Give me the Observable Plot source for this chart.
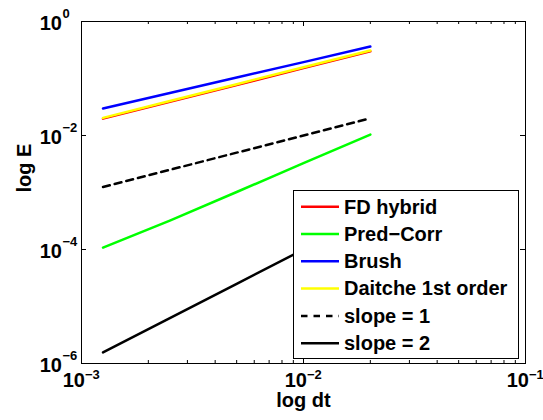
<!DOCTYPE html>
<html>
<head>
<meta charset="utf-8">
<script src="https://cdn.jsdelivr.net/npm/d3@7"></script>
<script src="https://cdn.jsdelivr.net/npm/@observablehq/plot@0.6"></script>
<style>
  html, body { margin: 0; padding: 0; background: #fff; }
  #chart svg { display: block; overflow: visible; }
</style>
</head>
<body>
<div id="chart"></div>
<script>
// ---- data ----
const dt = [0.00125, 0.0025, 0.005, 0.01, 0.02];
const fdHybrid = [0.0198, 0.039, 0.077, 0.152, 0.30];
const predCorr = [1.08e-4, 3.22e-4, 1.02e-3, 3.27e-3, 1.04e-2];
const brush = [0.0298, 0.0555, 0.104, 0.194, 0.364];
const daitche = [0.0204, 0.0402, 0.0795, 0.157, 0.31];
const slope1 = [0.00125, 0.0025, 0.005, 0.01, 0.02];
const slope2 = [1.5625e-6, 6.25e-6, 2.5e-5, 1e-4, 4e-4];

const seriesNames = ["FD hybrid", "Pred\u2212Corr", "Brush", "Daitche 1st order", "slope = 1", "slope = 2"];
const seriesValues = [fdHybrid, predCorr, brush, daitche, slope1, slope2];
const seriesColors = ["#ff0000", "#00ff00", "#0000ff", "#ffff00", "#000000", "#000000"];
const seriesDash = [null, null, null, null, "7,5", null];

const xMajor = [1e-3, 1e-2, 1e-1];
const xMajorExp = ["\u22123", "\u22122", "\u22121"];
const xMinor = [2,3,4,5,6,7,8,9].flatMap(m => [m * 1e-3, m * 1e-2]);
const yMajor = [1e-6, 1e-4, 1e-2, 1];
const yMajorExp = ["\u22126", "\u22124", "\u22122", "0"];

// ---- layout ----
const W = 543, H = 420;
const mL = 81, mT = 21, mR = 18, mB = 57;
const fw = W - mL - mR, fh = H - mT - mB;
const font = "'Liberation Sans', Arial, Helvetica, sans-serif";

const table = seriesNames.flatMap((name, i) =>
  dt.map((d, j) => ({series: name, dt: d, E: seriesValues[i][j], idx: i})));

const lineMarks = seriesNames.map((name, i) =>
  Plot.line(table.filter(r => r.idx === i), {
    x: "dt", y: "E",
    stroke: seriesColors[i],
    strokeWidth: 2.5,
    strokeDasharray: seriesDash[i] || undefined
  }));

const chart = Plot.plot({
  width: W, height: H,
  marginLeft: mL, marginTop: mT, marginRight: mR, marginBottom: mB,
  style: {background: "#fff", fontFamily: font, color: "#000"},
  x: {type: "log", domain: [1e-3, 1e-1], axis: null},
  y: {type: "log", domain: [1e-6, 1], axis: null},
  marks: [
    ...lineMarks,
    // ticks (inward, all four sides)
    Plot.tickX(xMajor, {x: d => d, insetTop: fh - 5, stroke: "#000"}),
    Plot.tickX(xMajor, {x: d => d, insetBottom: fh - 5, stroke: "#000"}),
    Plot.tickX(xMinor, {x: d => d, insetTop: fh - 3, stroke: "#000"}),
    Plot.tickX(xMinor, {x: d => d, insetBottom: fh - 3, stroke: "#000"}),
    Plot.tickY(yMajor, {y: d => d, insetRight: fw - 5, stroke: "#000"}),
    Plot.tickY(yMajor, {y: d => d, insetLeft: fw - 5, stroke: "#000"}),
    Plot.frame({stroke: "#000", strokeWidth: 1}),
    // x tick labels 10^n
    Plot.text(xMajor, {x: d => d, frameAnchor: "bottom", text: () => "10", textAnchor: "end",
      dx: 3.5, dy: 23.6, fontSize: 20, fontWeight: "bold", fill: "#000"}),
    Plot.text(xMajor, {x: d => d, frameAnchor: "bottom", text: (d, i) => xMajorExp[i], textAnchor: "start",
      dx: 3.5, dy: 15.3, fontSize: 13, fontWeight: "bold", fill: "#000"}),
    // y tick labels 10^n
    Plot.text(yMajor, {y: d => d, frameAnchor: "left", text: () => "10", textAnchor: "end",
      dx: -19.5, dy: 2.1, fontSize: 20, fontWeight: "bold", fill: "#000"}),
    Plot.text(yMajor, {y: d => d, frameAnchor: "left", text: (d, i) => yMajorExp[i], textAnchor: "start",
      dx: -19, dy: -7.2, fontSize: 13, fontWeight: "bold", fill: "#000"}),
    // axis labels
    Plot.text(["log dt"], {frameAnchor: "bottom", text: d => d, dy: 43.6,
      fontSize: 20, fontWeight: "bold", fill: "#000"}),
    Plot.text(["log E"], {frameAnchor: "left", text: d => d, rotate: -90, dx: -57.4,
      fontSize: 20, fontWeight: "bold", fill: "#000"})
  ]
});

// ---- legend inside the axes (lower right) ----
const svg = d3.select(chart);
const lg = svg.append("g").attr("class", "legend").attr("text-anchor", "start");
const bx = 293.5, by = 190.5, bw = 225, bh = 168;
lg.append("rect").attr("x", bx).attr("y", by).attr("width", bw).attr("height", bh)
  .attr("fill", "#fff").attr("stroke", "#000").attr("stroke-width", 1);
const rowY0 = 206.7, rowStep = 27.3;
seriesNames.forEach((name, i) => {
  const cy = rowY0 + i * rowStep;
  lg.append("line").attr("x1", 301).attr("x2", 339).attr("y1", cy).attr("y2", cy)
    .attr("stroke", seriesColors[i]).attr("stroke-width", 2.5)
    .attr("stroke-dasharray", seriesDash[i] ? "6.5,6" : null);
  lg.append("text").attr("x", 344).attr("y", cy + 6.8)
    .attr("text-anchor", "start")
    .attr("font-family", font).attr("font-size", 20).attr("font-weight", "bold")
    .attr("fill", "#000").text(name);
});

document.getElementById("chart").appendChild(chart);
</script>
</body>
</html>
